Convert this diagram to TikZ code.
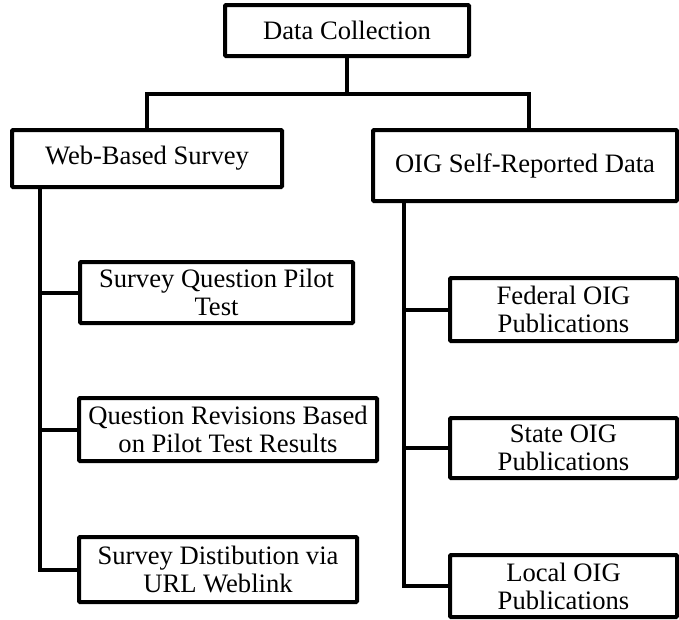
\documentclass[tikz,border=0pt]{standalone}
\usepackage{fontspec}
\setmainfont{Liberation Serif}
\begin{document}
\begin{tikzpicture}[x=1pt,y=-1pt,
  box/.style={draw=black,line width=4pt,rounded corners=1pt,fill=white,align=center,
    font=\fontsize{26.6}{28}\selectfont,inner sep=0pt},
  link/.style={draw=black,line width=4pt}]
\useasboundingbox (0,0) rectangle (679,619);
\node[box,minimum width=244pt,minimum height=51pt] (dc) at (347,30.5) {Data Collection};
\node[box,minimum width=270pt,minimum height=57pt] (web) at (147,158.5) {Web-Based Survey};
\node[box,minimum width=304pt,minimum height=71pt] (oig) at (525,165.5) {OIG Self-Reported Data};
\node[box,minimum width=273pt,minimum height=61pt] (s1) at (216.5,292.5) {Survey Question Pilot\\Test};
\node[box,minimum width=298pt,minimum height=63pt] (s2) at (228,429.5) {Question Revisions Based\\on Pilot Test Results};
\node[box,minimum width=278pt,minimum height=65pt] (s3) at (218,569.5) {Survey Distibution via\\URL Weblink};
\node[box,minimum width=227pt,minimum height=63pt] (f1) at (563.5,309.5) {Federal OIG\\Publications};
\node[box,minimum width=227pt,minimum height=60pt] (f2) at (563.5,448) {State OIG\\Publications};
\node[box,minimum width=227pt,minimum height=62pt] (f3) at (563.5,586) {Local OIG\\Publications};
\coordinate (bus) at (347,94);
\coordinate (busl) at (147,94);
\coordinate (busr) at (529,94);
\coordinate (ltop) at (40,187);
\coordinate (rtop) at (404,201);
\draw[link] (dc.south) -- (bus);
\draw[link] (web.north) -- (busl) -- (busr) -- (oig.north -| busr);
\draw[link] (ltop) -- (ltop |- s3.west) -- (s3.west);
\draw[link] (ltop |- s1.west) -- (s1.west);
\draw[link] (ltop |- s2.west) -- (s2.west);
\draw[link] (rtop) -- (rtop |- f3.west) -- (f3.west);
\draw[link] (rtop |- f1.west) -- (f1.west);
\draw[link] (rtop |- f2.west) -- (f2.west);
\end{tikzpicture}
\end{document}
